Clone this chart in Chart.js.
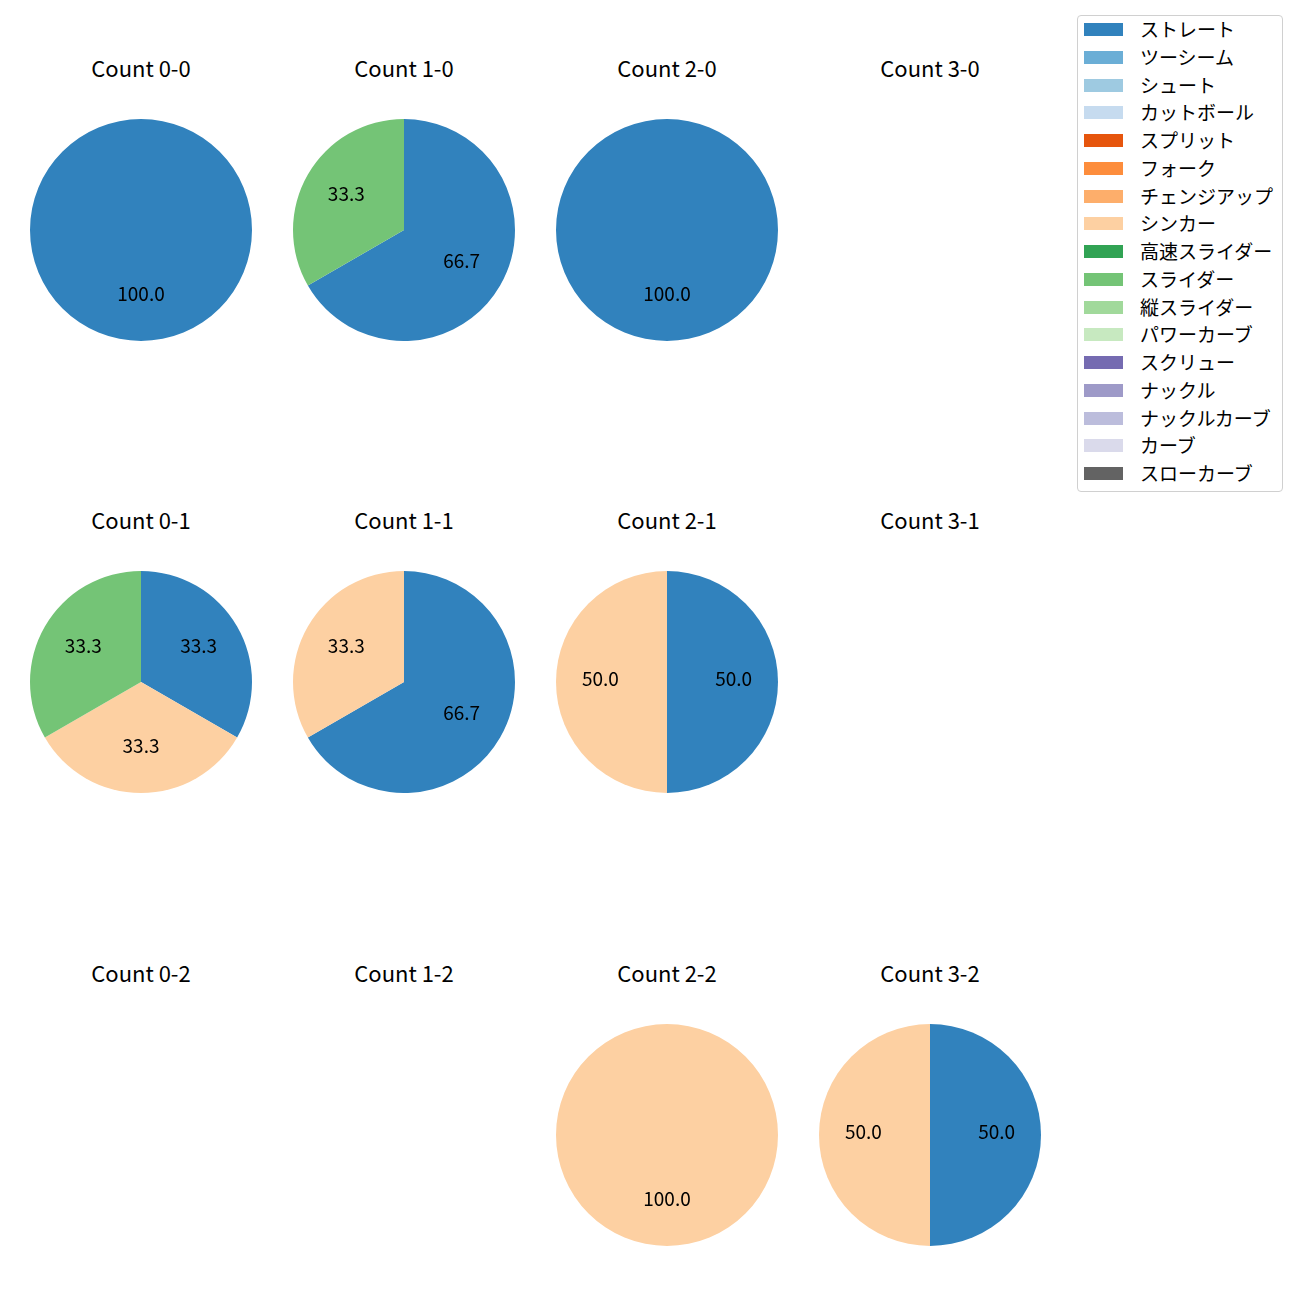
<!DOCTYPE html>
<html>
<head>
<meta charset="utf-8">
<script src="https://cdn.jsdelivr.net/npm/chart.js@4/dist/chart.umd.min.js"></script>
<style>
    body { margin: 0; background: #fff; font-family: "Noto Sans CJK JP", "Noto Sans", sans-serif; }
    #page { position: relative; width: 1300px; height: 1300px; }
    .titulo { position: absolute; width: 240px; text-align: center; font-size: 22px; color: #000; line-height: 26px; }
    .pie { position: absolute; width: 222px; height: 222px; }
    #leyenda { position: absolute; left: 1077px; top: 15px; width: 206px; height: 477px; border: 1px solid #d0d0d0; border-radius: 4px; box-sizing: border-box; }
    .item { position: absolute; left: 6px; height: 22px; font-size: 19px; line-height: 22px; color: #000; }
    .item span { position: absolute; left: 0; top: 4px; width: 39px; height: 13px; }
    .item b { position: absolute; left: 56px; top: -1px; font-weight: normal; white-space: nowrap; }
</style>
</head>
<body>
<div id="page"><div id="leyenda"></div></div>
<script>
const tiposLanzamiento = ["ストレート", "ツーシーム", "シュート", "カットボール", "スプリット", "フォーク",
    "チェンジアップ", "シンカー", "高速スライダー", "スライダー", "縦スライダー", "パワーカーブ",
    "スクリュー", "ナックル", "ナックルカーブ", "カーブ", "スローカーブ"];
const colores = ["#3182bd", "#6baed6", "#9ecae1", "#c6dbef", "#e6550d", "#fd8d3c", "#fdae6b", "#fdd0a2",
    "#31a354", "#74c476", "#a1d99b", "#c7e9c0", "#756bb1", "#9e9ac8", "#bcbddc", "#dadaeb", "#636363"];

const cuentas = ["0-0", "1-0", "2-0", "3-0", "0-1", "1-1", "2-1", "3-1", "0-2", "1-2", "2-2", "3-2"];
// pitches thrown per count
const recta = [1, 2, 1, 0, 1, 2, 1, 0, 0, 0, 0, 1];
const sinker = [0, 0, 0, 0, 1, 1, 1, 0, 0, 0, 1, 1];
const slider = [0, 1, 0, 0, 1, 0, 0, 0, 0, 0, 0, 0];

const centrosX = [141, 404, 667, 930];
const centrosY = [230, 682, 1135];

const page = document.getElementById("page");
const leyenda = document.getElementById("leyenda");

tiposLanzamiento.forEach((nombre, i) => {
    const item = document.createElement("div");
    item.className = "item";
    item.style.top = (3 + i * 27.75) + "px";
    item.innerHTML = '<span style="background:' + colores[i] + '"></span><b>' + nombre + '</b>';
    leyenda.appendChild(item);
});

const etiquetas = {
    id: "etiquetas",
    afterDatasetsDraw(chart) {
        const ctx = chart.ctx;
        const datos = chart.data.datasets[0].data;
        const total = datos.reduce((a, b) => a + b, 0);
        ctx.save();
        ctx.font = '19px "Noto Sans CJK JP", sans-serif';
        ctx.fillStyle = "#000";
        ctx.textAlign = "center";
        ctx.textBaseline = "middle";
        chart.getDatasetMeta(0).data.forEach((arc, i) => {
            if (!datos[i]) return;
            const p = arc.getProps(["x", "y", "startAngle", "endAngle", "outerRadius"], true);
            const medio = (p.startAngle + p.endAngle) / 2;
            const r = p.outerRadius * 0.6;
            ctx.fillText((datos[i] / total * 100).toFixed(1), p.x + Math.cos(medio) * r, p.y + Math.sin(medio) * r - 3);
        });
        ctx.restore();
    }
};

cuentas.forEach((cuenta, k) => {
    const cx = centrosX[k % 4];
    const cy = centrosY[Math.floor(k / 4)];

    const titulo = document.createElement("div");
    titulo.className = "titulo";
    titulo.style.left = (cx - 120) + "px";
    titulo.style.top = (cy - 176) + "px";
    titulo.textContent = "Count " + cuenta;
    page.appendChild(titulo);

    const valores = tiposLanzamiento.map(() => 0);
    valores[0] = recta[k];
    valores[7] = sinker[k];
    valores[9] = slider[k];
    if (valores.every(v => v === 0)) return;

    const canvas = document.createElement("canvas");
    canvas.className = "pie";
    canvas.style.left = (cx - 111) + "px";
    canvas.style.top = (cy - 111) + "px";
    canvas.width = 222;
    canvas.height = 222;
    page.appendChild(canvas);

    new Chart(canvas, {
        type: "pie",
        data: {
            labels: tiposLanzamiento,
            datasets: [{
                data: valores,
                backgroundColor: colores,
                borderWidth: 0
            }]
        },
        options: {
            responsive: false,
            animation: false,
            layout: { padding: 0 },
            plugins: {
                legend: { display: false },
                tooltip: { enabled: false }
            }
        },
        plugins: [etiquetas]
    });
});
</script>
</body>
</html>
